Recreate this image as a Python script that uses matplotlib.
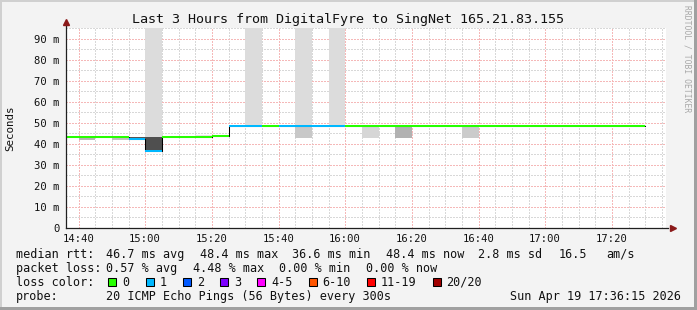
import matplotlib
matplotlib.use("Agg")
import matplotlib.pyplot as plt
from matplotlib.patches import Rectangle
from matplotlib.ticker import FixedLocator, FuncFormatter

# ---------------- data ----------------
title = "Last 3 Hours from DigitalFyre to SingNet 165.21.83.155"
t_start, t_end = "14:36:15", "17:36:15"

bin_start = ["14:35", "14:40", "14:45", "14:50", "14:55", "15:00", "15:05",
             "15:10", "15:15", "15:20", "15:25", "15:30", "15:35", "15:40",
             "15:45", "15:50", "15:55", "16:00", "16:05", "16:10", "16:15",
             "16:20", "16:25", "16:30", "16:35", "16:40", "16:45", "16:50",
             "16:55", "17:00", "17:05", "17:10", "17:15", "17:20", "17:25"]
bin_end_last = "17:30"
median_ms = [43.2, 43.2, 43.2, 43.2, 42.3, 36.6, 43.2,
             43.2, 43.2, 43.9, 48.4, 48.4, 48.4, 48.4,
             48.4, 48.4, 48.4, 48.4, 48.4, 48.4, 48.4,
             48.4, 48.4, 48.4, 48.4, 48.4, 48.4, 48.4,
             48.4, 48.4, 48.4, 48.4, 48.4, 48.4, 48.4]
loss_count = [0, 0, 0, 0, 1, 1, 0,
              0, 0, 0, 1, 1, 0, 1,
              1, 1, 1, 0, 0, 0, 0,
              0, 0, 0, 0, 0, 0, 0,
              0, 0, 0, 0, 0, 0, 0]

smoke_bin = ["14:40", "14:50", "14:55", "15:00", "15:15", "15:45", "16:05", "16:15", "16:35"]
smoke_lo = [41.7, 42.0, 42.3, 36.6, 43.2, 42.9, 42.9, 42.9, 42.9]
smoke_hi = [43.2, 43.2, 43.4, 43.4, 44.2, 48.4, 48.4, 48.4, 48.4]
smoke_shade = ["#b8b8b8", "#c2c2c2", "#555555", "#4f4f4f", "#e4e4e4",
               "#c8c8c8", "#d6d6d6", "#b2b2b2", "#cbcbcb"]

lost_bin = ["15:00", "15:30", "15:45", "15:55"]

y_ticks = [0, 10, 20, 30, 40, 50, 60, 70, 80, 90]
x_ticks = ["14:40", "15:00", "15:20", "15:40", "16:00", "16:20", "16:40", "17:00", "17:20"]

rtt_values = [46.7, 48.4, 36.6, 48.4]
rtt_names = ["avg", "max", "min", "now"]
rtt_sd = 2.8
rtt_ams = 16.5
loss_values = [0.57, 4.48, 0.00, 0.00]
loss_names = ["avg", "max", "min", "now"]
loss_labels = ["0", "1", "2", "3", "4-5", "6-10", "11-19", "20/20"]
loss_colors = ["#26ff00", "#00b8ff", "#0059ff", "#7e00ff", "#ff00ff", "#ff5500", "#ff0000", "#a10000"]
probe_text = "20 ICMP Echo Pings (56 Bytes) every 300s"
stamp_text = "Sun Apr 19 17:36:15 2026"
watermark = "RRDTOOL / TOBI OETIKER"


def tm(s):
    p = [float(v) for v in s.split(":")]
    return p[0] * 60 + p[1] + (p[2] / 60 if len(p) > 2 else 0)


# ---------------- figure ----------------
W, H = 697, 310
MONO = "DejaVu Sans Mono"
fig = plt.figure(figsize=(W / 100, H / 100), dpi=100, facecolor="#f3f3f3")


def fx(px):
    return px / W


def fy(py):
    return 1 - py / H


# frame
fig.add_artist(Rectangle((0, fy(2)), 1, 2 / H, transform=fig.transFigure, color="#d0d0d0", lw=0))
fig.add_artist(Rectangle((0, 0), 2 / W, 1, transform=fig.transFigure, color="#d0d0d0", lw=0))
fig.add_artist(Rectangle((0, 0), 1, 3 / H, transform=fig.transFigure, color="#a0a0a0", lw=0))
fig.add_artist(Rectangle((fx(694), 0), 3 / W, 1, transform=fig.transFigure, color="#a0a0a0", lw=0))

ax = fig.add_axes([fx(66), fy(228), 600 / W, 200 / H])
ax.set_facecolor("white")
x0, x1 = tm(t_start), tm(t_end)
ax.set_xlim(x0, x1)
ax.set_ylim(0, 95)
for s in ax.spines.values():
    s.set_visible(False)

# grid (dotted, minor grey every 5 min / 5 m, major red every 20 min / 10 m)
grid_minutes = [m for m in range(int(x0) + 1, int(x1) + 1) if m % 5 == 0]
for m in grid_minutes:
    major = (m % 20 == 0)
    ax.axvline(m, color="#f5b8b8" if major else "#d8d8d8", lw=1.0,
               ls=(0, (1, 1)), zorder=0.5, antialiased=False)
for v in range(5, 96, 5):
    major = (v % 10 == 0)
    ax.axhline(v, color="#f5b8b8" if major else "#d8d8d8", lw=1.0,
               ls=(0, (1, 1)), zorder=0.5, antialiased=False)

starts = [tm(s) for s in bin_start]
ends = starts[1:] + [tm(bin_end_last)]

# loss columns
for b in lost_bin:
    i = bin_start.index(b)
    base = median_ms[i]
    if b in smoke_bin:
        base = max(base, smoke_hi[smoke_bin.index(b)])
    ax.bar(starts[i], 95 - base, bottom=base, width=ends[i] - starts[i], align="edge",
           color="#dcdcdc", lw=0, zorder=1)

# smoke
for b, lo, hi, c in zip(smoke_bin, smoke_lo, smoke_hi, smoke_shade):
    i = bin_start.index(b)
    ax.bar(starts[i], hi - lo, bottom=lo, width=ends[i] - starts[i], align="edge",
           color=c, lw=0, zorder=2)

# median step line (thin black) and coloured segments
ax.step(starts + [ends[-1]], median_ms + [median_ms[-1]], where="post",
        color="#000000", lw=0.75, zorder=3)
for s, e, v, n in zip(starts, ends, median_ms, loss_count):
    ax.hlines(v, s, e, color=loss_colors[n], lw=1.44, zorder=4, antialiased=False)

# ticks
ax.xaxis.set_major_locator(FixedLocator([tm(s) for s in x_ticks]))
ax.xaxis.set_major_formatter(FuncFormatter(lambda v, p: "%02d:%02d" % (int(v // 60), int(round(v % 60)))))
ax.yaxis.set_major_locator(FixedLocator(y_ticks))
ax.yaxis.set_major_formatter(FuncFormatter(lambda v, p: "0" if v == 0 else "%d m" % v))
ax.tick_params(axis="both", length=0, labelsize=7.6, colors="#111111")
ax.tick_params(axis="x", pad=4)
ax.tick_params(axis="y", pad=4.5)
for lab in ax.get_xticklabels() + ax.get_yticklabels():
    lab.set_family(MONO)

# axis lines with arrows
ax.plot([0, 1.003], [0, 0], transform=ax.transAxes, color="#202020", lw=0.9, clip_on=False, zorder=5)
ax.plot([1.0115], [0], transform=ax.transAxes, marker=">", color="#8b1a1a", ms=4.5, clip_on=False, zorder=5)
ax.plot([0, 0], [0, 1.015], transform=ax.transAxes, color="#202020", lw=0.9, clip_on=False, zorder=5)
ax.plot([0], [1.03], transform=ax.transAxes, marker="^", color="#8b1a1a", ms=4.5, clip_on=False, zorder=5)

# texts
fig.text(fx(348), fy(20), title, ha="center", va="center", family=MONO, fontsize=9.6, color="#111111")
fig.text(fx(10), fy(128), "Seconds", ha="center", va="center", rotation=90, family=MONO,
         fontsize=7.8, color="#111111")
fig.text(fx(687), fy(59), watermark, ha="center", va="center", rotation=-90, family=MONO,
         fontsize=5.8, color="#a8a8a8")

FS = 8.45
CW = 7.05


def txt(x, y, s, ha="left"):
    fig.text(fx(x), fy(y), s, ha=ha, va="center", family=MONO, fontsize=FS, color="#111111")


y1, y2, y3, y4 = 254.3, 268.3, 282.3, 296.2
txt(15.5, y1, "median rtt:")
line1_x = [106.5, 199.5, 292.5, 385.5]
for x, v, n in zip(line1_x, rtt_values, rtt_names):
    txt(x, y1, "%.1f ms %s" % (v, n))
txt(477.5, y1, "%.1f ms sd" % rtt_sd)
txt(558.5, y1, "%.1f" % rtt_ams)
txt(606.5, y1, "am/s")

txt(15.5, y2, "packet loss:")
line2_x = [106.5, 193, 279, 366]
for x, v, n in zip(line2_x, loss_values, loss_names):
    txt(x, y2, "%.2f %% %s" % (v, n))

txt(15.5, y3, "loss color:")
sx = 108.3
for lab, col in zip(loss_labels, loss_colors):
    fig.add_artist(Rectangle((fx(sx), fy(y3 + 4)), 8 / W, 8 / H, transform=fig.transFigure,
                             facecolor=col, edgecolor="#000000", lw=0.75))
    tx = sx + 14.5
    txt(tx - 0.5, y3, lab)
    sx = tx + len(lab) * CW + 15.7

txt(15.5, y4, "probe:")
txt(106.5, y4, probe_text)
txt(681, y4, stamp_text, ha="right")

fig.savefig("out.png", dpi=100, facecolor=fig.get_facecolor())
